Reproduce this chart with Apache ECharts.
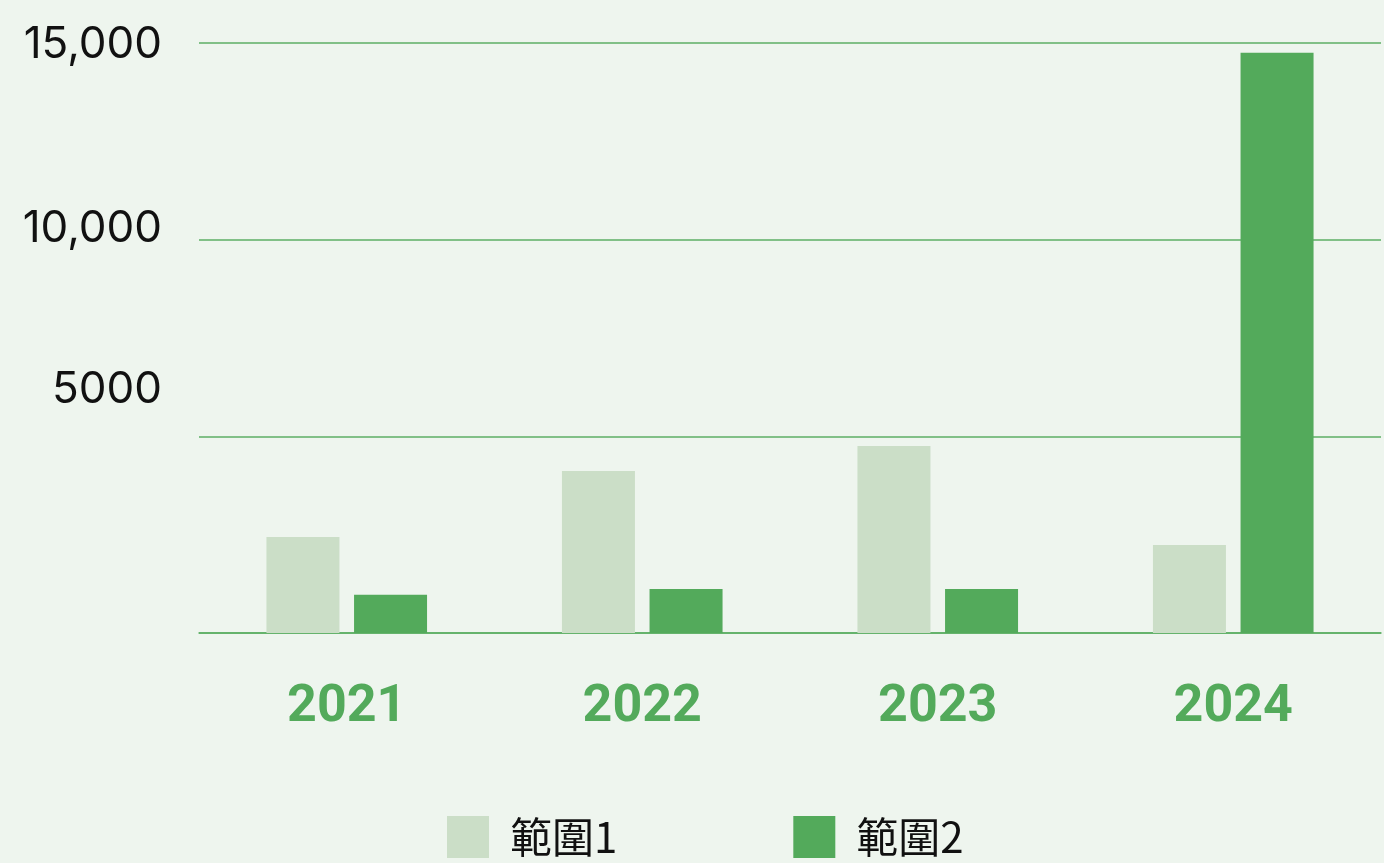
<!DOCTYPE html>
<html>
<head>
<meta charset="utf-8">
<script src="https://cdn.jsdelivr.net/npm/echarts@6/dist/echarts.min.js"></script>
<style>
  html, body { margin: 0; padding: 0; background: #eef5ee; }
  #chart { width: 1384px; height: 863px; }
</style>
</head>
<body>
<div id="chart"></div>
<script>
// data
const years = ['2021', '2022', '2023', '2024'];
const range1 = [2440, 4120, 4755, 2240];
const range2 = [970, 1120, 1120, 14750];
const seriesNames = ['範圍1', '範圍2'];
const yTickValues = [0, 5000, 10000, 15000];
const yTickLabels = ['', '5000', '10,000', '15,000'];
// how far each y label sits above its grid line (px), negative = below
const yLabelLift = [0, 47, 11, -2];

const light = '#cbdec7';
const dark = '#53aa5b';
const lineColor = '#5cae64';

const myChart = echarts.init(document.getElementById('chart'));

const rich = {};
yTickValues.forEach((v, i) => {
  const d = yLabelLift[i];
  rich['t' + i] = {
    fontFamily: 'Inter',
    fontSize: 44,
    color: '#111',
    padding: d >= 0 ? [0, 0, d * 2, 0] : [-d * 2, 0, 0, 0],
  };
});

const option = {
  backgroundColor: '#eef5ee',
  animation: false,
  grid: { left: 199, right: 3, top: 43, bottom: 230 },
  legend: {
    left: 447,
    top: 816,
    padding: 0,
    itemWidth: 42,
    itemHeight: 42,
    itemGap: 176,
    icon: 'rect',
    textStyle: {
      fontFamily: 'Noto Sans CJK TC',
      fontSize: 42,
      color: '#111',
      padding: [0, 0, 0, 16],
    },
    data: seriesNames,
  },
  xAxis: {
    type: 'category',
    data: years,
    axisLine: { lineStyle: { color: lineColor, width: 1.5 } },
    axisTick: { show: false },
    axisLabel: {
      color: dark,
      fontFamily: 'Roboto',
      fontWeight: 'bold',
      fontSize: 52,
      margin: 49,
    },
  },
  yAxis: {
    type: 'value',
    min: 0,
    max: 15000,
    interval: 5000,
    axisLine: { show: false },
    axisTick: { show: false },
    splitLine: { lineStyle: { color: lineColor, width: 1.5 } },
    axisLabel: {
      margin: 37,
      formatter: (v) => {
        const i = yTickValues.indexOf(v);
        if (i < 0 || !yTickLabels[i]) return '';
        return '{t' + i + '|' + yTickLabels[i] + '}';
      },
      rich: rich,
    },
  },
  series: [
    {
      name: seriesNames[0],
      type: 'bar',
      barWidth: 73,
      barGap: '20%',
      itemStyle: { color: light },
      data: range1,
    },
    {
      name: seriesNames[1],
      type: 'bar',
      barWidth: 73,
      barGap: '20%',
      itemStyle: { color: dark },
      data: range2,
    },
  ],
};
myChart.setOption(option);
</script>
</body>
</html>
